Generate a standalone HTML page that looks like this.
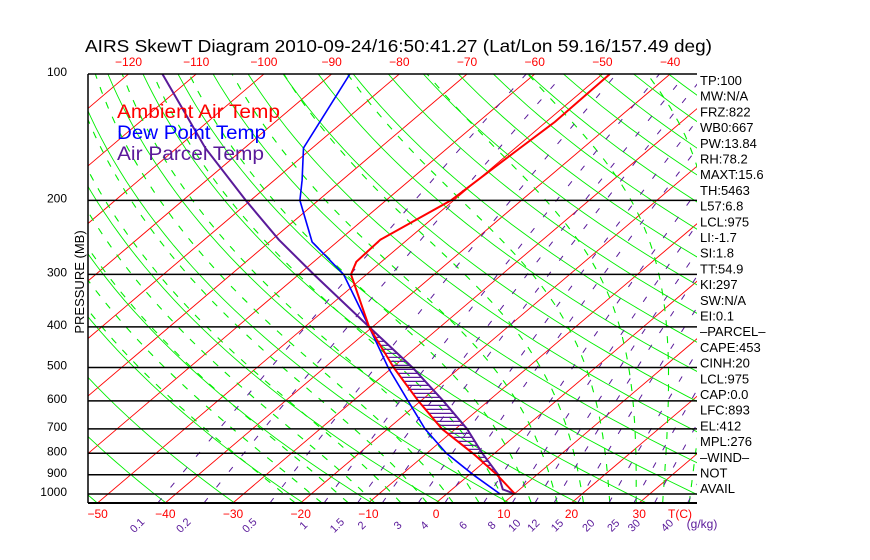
<!DOCTYPE html>
<html><head><meta charset="utf-8">
<style>
html,body{margin:0;padding:0;background:#fff;}
svg{display:block;font-family:"Liberation Sans",sans-serif;}
</style></head>
<body>
<svg id="chart" width="870" height="560" viewBox="0 0 870 560" xmlns="http://www.w3.org/2000/svg">
<defs><clipPath id="plotclip"><rect x="88" y="74" width="609" height="429"/></clipPath></defs>
<rect width="870" height="560" fill="#fff"/>
<text x="85" y="52" font-size="17.5" fill="#000" textLength="627" lengthAdjust="spacingAndGlyphs">AIRS SkewT Diagram 2010-09-24/16:50:41.27 (Lat/Lon 59.16/157.49 deg)</text>
<g id="grid" clip-path="url(#plotclip)"></g>
<g id="series" clip-path="url(#plotclip)"></g>
<g id="axes"></g>
<g font-size="19">
<text x="117" y="118" fill="#ff0000" textLength="163" lengthAdjust="spacingAndGlyphs">Ambient Air Temp</text>
<text x="117" y="139" fill="#0000ff" textLength="149" lengthAdjust="spacingAndGlyphs">Dew Point Temp</text>
<text x="117" y="160" fill="#5a1a9a" textLength="147" lengthAdjust="spacingAndGlyphs">Air Parcel Temp</text>
</g>
<text transform="translate(84,282) rotate(-90)" text-anchor="middle" font-size="13" fill="#000">PRESSURE (MB)</text>
<g id="stats" font-size="13" fill="#000"></g>
</svg>
<script>
var NS='http://www.w3.org/2000/svg';
// ---- data ----
var envP=[1000,900,800,700,600,500,400,300,280,248,200,150,130,100];
var envT=[10.1,4.1,-3.2,-12.0,-20.4,-29.8,-40.5,-52.3,-53.7,-54.0,-50.4,-49.3,-48.7,-48.9];
var dewP=[1000,900,800,700,600,500,400,300,251,200,179,150,100];
var dewT=[7.9,0.6,-7.1,-14.5,-21.9,-30.6,-40.5,-53.4,-63.7,-72.7,-75.9,-81.3,-87.3];
var parP=[1000,975,900,800,700,600,500,400,300,248,200,150,100];
var parT=[10.1,7.5,4.3,-1.8,-8.3,-16.7,-27.0,-40.5,-57.8,-69.0,-80.7,-95.8,-115];
var pressureTicks=[100,200,300,400,500,600,700,800,900,1000];
var bottomTempTicks=[-50,-40,-30,-20,-10,0,10,20,30];
var topTempTicks=[-120,-110,-100,-90,-80,-70,-60,-50,-40];
var mixRatios=[0.1,0.2,0.5,1,1.5,2,3,4,6,8,10,12,15,20,25,30,40];
var mixLabels=['0.1','0.2','0.5','1','1.5','2','3','4','6','8','10','12','15','20','25','30','40'];
var stats=['TP:100','MW:N/A','FRZ:822','WB0:667','PW:13.84','RH:78.2','MAXT:15.6','TH:5463','L57:6.8','LCL:975','LI:-1.7','SI:1.8','TT:54.9','KI:297','SW:N/A','EI:0.1','\u2013PARCEL\u2013','CAPE:453','CINH:20','LCL:975','CAP:0.0','LFC:893','EL:412','MPL:276','\u2013WIND\u2013','NOT','AVAIL'];
var LFC=893, EL=412;
// ---- axes ----
var L=88,R=697,T0=74,B=503;
var GREEN='#00ee00', PURPLE='#5a1a9a';
function yP(p){return 74+182.4*Math.log(p/100);}
function xT(t,p){return 436+6.77*t+1.177*(503-yP(p));}
function mk(tag,attrs,parent){var e=document.createElementNS(NS,tag);for(var k in attrs)e.setAttribute(k,attrs[k]);parent.appendChild(e);return e;}
var grid=document.getElementById('grid'),series=document.getElementById('series'),axes=document.getElementById('axes');
function pathFrom(fn,p0,p1,n){var d='';for(var i=0;i<=n;i++){var p=p0*Math.pow(p1/p0,i/n);var t=fn(p);d+=(i?'L':'M')+xT(t,p).toFixed(1)+','+yP(p).toFixed(1);}return d;}
// isotherms
for(var t=-160;t<=50;t+=10){
  var e=mk('line',{x1:xT(t,1050),y1:yP(1050),x2:xT(t,100),y2:yP(100),stroke:'#ff0000','stroke-width':0.9},grid);
  
}
// dry adiabats
for(var th=200;th<=520;th+=10){
  (function(th){var e=mk('path',{d:pathFrom(function(p){return th*Math.pow(p/1000,0.286)-273.15;},1050,100,40),stroke:GREEN,'stroke-width':0.9,fill:'none'},grid);
  })(th);
}
// moist adiabats
function es(tc){return 6.112*Math.exp(17.67*tc/(tc+243.5));}
function moist(t0){
  var Tk=t0+273.15;
  function dTdp(T,p){var rs=0.622*es(T-273.15)/(p-es(T-273.15));var Lv=2.5e6,Rd=287,cp=1005;
    return (1/p)*(Rd*T+Lv*rs)/(cp+Lv*Lv*rs*0.622/(Rd*T*T));}
  var T=Tk,pp=1000,up=[];for(;pp>=100;pp-=10){up.push([pp,T-273.15]);T-=10*dTdp(T,pp);}
  T=Tk;var dn=[];for(pp=1000;pp<=1050;pp+=10){dn.unshift([pp,T-273.15]);T+=10*dTdp(T,pp);}
  return dn.concat(up.slice(1));
}
for(var tw=-24;tw<=40;tw+=4){
  var arr=moist(tw),d='';
  for(var i=0;i<arr.length;i++)d+=(i?'L':'M')+xT(arr[i][1],arr[i][0]).toFixed(1)+','+yP(arr[i][0]).toFixed(1);
  var e=mk('path',{d:d,stroke:GREEN,'stroke-width':1.1,fill:'none','stroke-dasharray':'7 9'},grid);
  
}
// mixing ratio lines
function tdw(w,p){var e=w*p/(622+w);var l=Math.log(e/6.112);return 243.5*l/(17.67-l);}
for(var i=0;i<mixRatios.length;i++){
  (function(w){var e=mk('path',{d:pathFrom(function(p){return tdw(w,p);},1050,100,30),stroke:PURPLE,'stroke-width':1,fill:'none','stroke-dasharray':'6 14'},grid);
  })(mixRatios[i]);
}
// pressure lines
for(var i=0;i<pressureTicks.length;i++){
  var y=yP(pressureTicks[i]);
  var e=mk('line',{x1:L,y1:y,x2:R,y2:y,stroke:'#000','stroke-width':1.5},axes);
  
  var tx=mk('text',{x:67,y:y+2,'text-anchor':'end','font-size':12,fill:'#000'},axes);tx.textContent=pressureTicks[i];
  
}
var bl=mk('line',{x1:L,y1:B,x2:R,y2:B,stroke:'#000','stroke-width':2},axes);
var ll=mk('line',{x1:L,y1:T0,x2:L,y2:B,stroke:'#000','stroke-width':1.5},axes);
for(var i=0;i<bottomTempTicks.length;i++){
  var t=bottomTempTicks[i];var tx=mk('text',{x:xT(t,1050),y:518,'text-anchor':'middle','font-size':12,fill:'#ff0000'},axes);
  tx.textContent=t<0?'\u2212'+(-t):t;
}
var tc=mk('text',{x:680,y:518,'text-anchor':'middle','font-size':12,fill:'#ff0000'},axes);tc.textContent='T(C)';
for(var i=0;i<topTempTicks.length;i++){
  var t=topTempTicks[i];var tx=mk('text',{x:xT(t,100),y:66,'text-anchor':'middle','font-size':12,fill:'#ff0000'},axes);
  tx.textContent='\u2212'+(-t);
}
for(var i=0;i<mixRatios.length;i++){
  var x=xT(tdw(mixRatios[i],1050),1050)-18;
  var tx=mk('text',{transform:'translate('+x.toFixed(1)+',528) rotate(-45)','text-anchor':'middle','font-size':11,fill:PURPLE},axes);
  tx.textContent=mixLabels[i];
}
var gk=mk('text',{x:702,y:528,'text-anchor':'middle','font-size':12,fill:PURPLE},axes);gk.textContent='(g/kg)';
// ---- series ----
function interp(P,Tv,p){for(var i=0;i<P.length-1;i++){if(p<=P[i]&&p>=P[i+1]){var f=Math.log(p/P[i])/Math.log(P[i+1]/P[i]);return Tv[i]+f*(Tv[i+1]-Tv[i]);}}return null;}
for(var y=yP(LFC);y>=yP(EL);y-=4){
  var p=100*Math.exp((y-74)/182.4);var te=interp(envP,envT,p),tp=interp(parP,parT,p);
  if(te===null||tp===null||tp<=te)continue;
  var e=mk('line',{x1:xT(te,p),y1:y,x2:xT(tp,p),y2:y,stroke:PURPLE,'stroke-width':1.2},series);
  
}
function poly(P,Tv,color,w,name){var d='';for(var i=0;i<P.length;i++)d+=(i?'L':'M')+xT(Tv[i],P[i]).toFixed(1)+','+yP(P[i]).toFixed(1);
  var e=mk('path',{d:d,stroke:color,'stroke-width':w,fill:'none'},series);}
poly(parP,parT,PURPLE,2,'air-parcel-temp-line');
poly(dewP,dewT,'#0000ff',1.6,'dew-point-temp-line');
poly(envP,envT,'#ff0000',2,'ambient-air-temp-line');
var sg=document.getElementById('stats');
for(var i=0;i<stats.length;i++){var tx=mk('text',{x:700,y:85+i*15.7},sg);tx.textContent=stats[i];
  }
</script>
</body></html>
